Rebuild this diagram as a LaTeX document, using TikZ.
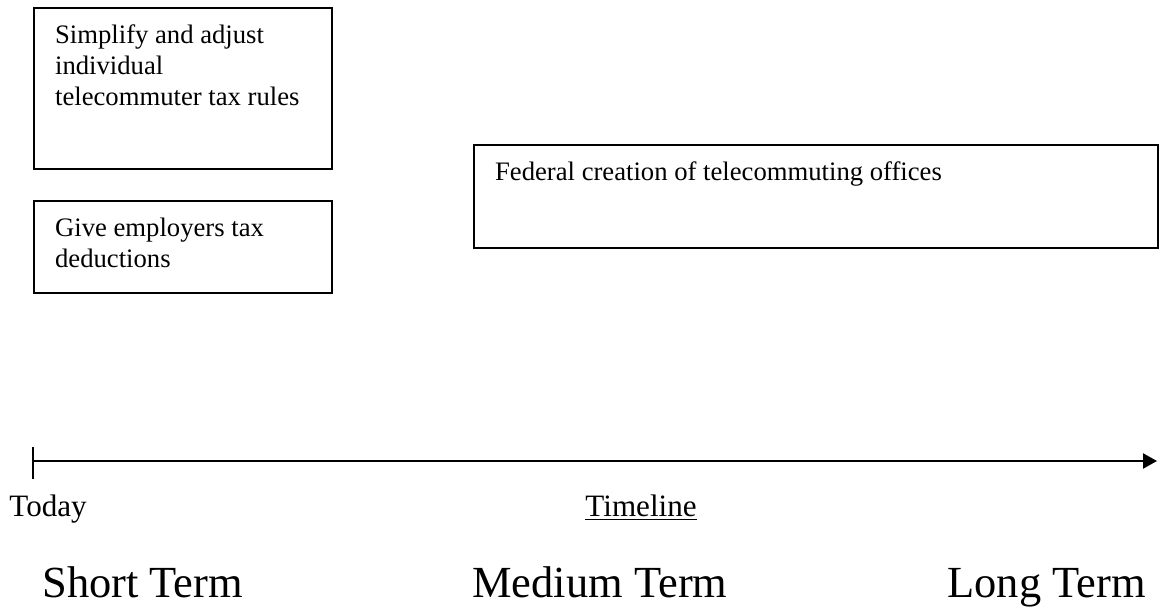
\documentclass[tikz,border=0pt]{standalone}
\usepackage{fontspec}
\setmainfont{Liberation Serif}
\usetikzlibrary{arrows.meta,positioning}

\begin{document}
\begin{tikzpicture}[x=0.45pt,y=-0.45pt,
  box/.style={draw,line width=0.9pt,anchor=north west,inner xsep=9.5pt,inner ysep=6.5pt,
    font=\fontsize{12}{13.8}\selectfont},
  lbl/.style={anchor=base west,inner sep=0pt},
  term/.style={lbl,font=\fontsize{20}{24}\selectfont}]
\useasboundingbox (0,0) rectangle (1172,612);
% action boxes
\node[box] (simplify) at (33,7) {\parbox[t][59.4pt][t]{115pt}{\raggedright\strut Simplify and adjust\\ individual\\ telecommuter tax rules}};
\node[box] (deduct) at (33,200) {\parbox[t][28.4pt][t]{115pt}{\raggedright\strut Give employers tax\\ deductions}};
\node[box] (offices) at (473,144) {\parbox[t][33.3pt][t]{289pt}{\raggedright\strut Federal creation of telecommuting offices}};
% timeline
\coordinate (today) at (33,461);
\coordinate (horizon) at (1157,461);
\coordinate (ticktop) at (33,447);
\coordinate (tickbot) at (33,479);
\draw[line width=0.9pt] (ticktop) -- (tickbot);
\draw[line width=0.9pt,-{Triangle[length=6.3pt,width=6.8pt]}] (today) -- (horizon);
\node[lbl,font=\fontsize{14}{16}\selectfont] (todaylbl) at (9,516) {Today};
\node[lbl,font=\fontsize{14}{16}\selectfont] (timeline) at (585,516) {\underline{Timeline}};
\node[term] (short) at (42,597) {Short Term};
\node[term] (medium) at (472,597) {Medium Term};
\node[term] (long) at (947,597) {Long Term};
\end{tikzpicture}
\end{document}
